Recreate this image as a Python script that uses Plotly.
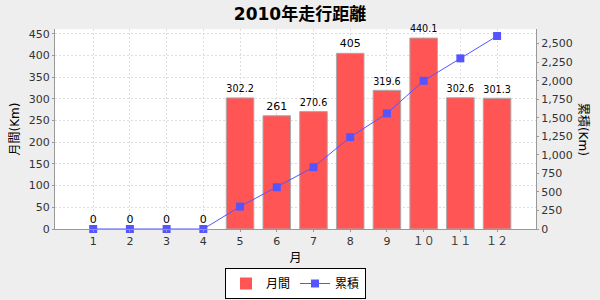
import plotly.graph_objects as go

months = [1, 2, 3, 4, 5, 6, 7, 8, 9, 10, 11, 12]
month_labels = ["1", "2", "3", "4", "5", "6", "7", "8", "9", "１０", "１１", "１２"]
monthly = [0, 0, 0, 0, 302.2, 261, 270.6, 405, 319.6, 440.1, 302.6, 301.3]
cumulative = [0, 0, 0, 0, 302.2, 563.2, 833.8, 1238.8, 1558.4, 1998.5, 2301.1, 2602.4]
bar_text = ["0", "0", "0", "0", "302.2", "261", "270.6", "405", "319.6", "440.1", "302.6", "301.3"]

FONT = "DejaVu Sans, Noto Sans CJK JP"

fig = go.Figure()
fig.add_trace(go.Bar(
    x=months, y=monthly, name="月間", width=0.75,
    marker=dict(color="#FF5555",
                line=dict(color="#AAAAAA", width=[0 if v == 0 else 1 for v in monthly])),
    text=bar_text, textposition="outside", cliponaxis=False,
    textfont=dict(size=11, color="#000000", family=FONT),
))
fig.add_trace(go.Scatter(
    x=months, y=cumulative, name="累積", yaxis="y2", mode="lines+markers",
    line=dict(color="#5555FF", width=1),
    marker=dict(symbol="square", size=8, color="#5555FF"),
    cliponaxis=False,
))

grid = dict(showgrid=True, gridcolor="#DDDDDD", griddash="2px,2px", gridwidth=1)
fig.update_layout(
    width=600, height=300,
    margin=dict(l=55, r=64, t=29, b=71, autoexpand=False),
    paper_bgcolor="#EEEEEE", plot_bgcolor="#FFFFFF",
    font=dict(family=FONT, size=11, color="#333333"),
    title=dict(text="<b>2010年走行距離</b>", x=0.5, xanchor="center", y=0.953, yanchor="middle",
               font=dict(size=17, color="#000000", family=FONT)),
    showlegend=True,
    legend=dict(orientation="h", x=0.5, xanchor="center", y=-0.195, yanchor="top",
                bordercolor="#000000", borderwidth=1, bgcolor="#FFFFFF",
                font=dict(size=12, color="#000000"), itemwidth=30, tracegroupgap=0),
    xaxis=dict(tickmode="array", tickvals=months, ticktext=month_labels, range=[-0.04, 13.06],
               showline=True, linecolor="#999999", ticks="outside", ticklen=2, tickcolor="#999999",
               title=dict(text="月", font=dict(size=12, color="#000000"), standoff=6),
               zeroline=False, **grid),
    yaxis=dict(range=[0, 461], dtick=50, showline=True, linecolor="#999999", ticks="outside",
               ticklen=2, tickcolor="#999999", zeroline=False,
               title=dict(text="月間(Km)", font=dict(size=12, color="#000000"), standoff=6),
               **grid),
    yaxis2=dict(range=[0, 2697], dtick=250, tickformat=",", overlaying="y", side="right",
                showline=True, linecolor="#999999", ticks="outside", ticklen=2, tickcolor="#999999",
                showgrid=False, zeroline=False),
    annotations=[dict(text="累積(Km)", textangle=90, xref="paper", yref="paper",
                      x=1.10, y=0.5, xanchor="center", yanchor="middle", showarrow=False,
                      font=dict(size=12, color="#000000"))],
)
fig.write_html("out.html")
